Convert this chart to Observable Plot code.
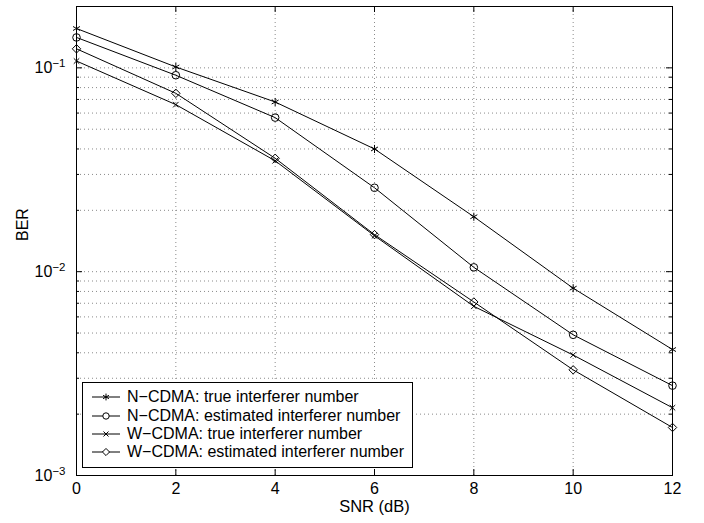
<!DOCTYPE html>
<html><head><meta charset="utf-8">
<script src="https://cdn.jsdelivr.net/npm/d3@7"></script>
<script src="https://cdn.jsdelivr.net/npm/@observablehq/plot@0.6"></script>
<style>
body{margin:0;background:#fff;font-family:"Liberation Sans",Arial,Helvetica,sans-serif;}
#wrap{position:relative;width:704px;height:523px;}
#legend{position:absolute;left:82px;top:382px;width:331px;height:86px;border:1px solid #000;background:#fff;box-sizing:border-box;}
.row{position:absolute;left:0;height:18px;width:100%;font-size:16px;color:#000;}
.row svg{position:absolute;left:0;top:0;}
.row span{position:absolute;left:44px;top:0;line-height:18px;white-space:nowrap;}
</style></head><body><div id="wrap"></div>
<script>
// ---- data ----
const snr = [0, 2, 4, 6, 8, 10, 12];
const nCdmaTrue = [0.156, 0.101, 0.068, 0.040, 0.0186, 0.0083, 0.00415];
const nCdmaEst  = [0.141, 0.092, 0.057, 0.0258, 0.0105, 0.0049, 0.00276];
const wCdmaTrue = [0.108, 0.066, 0.035, 0.0150, 0.00676, 0.0039, 0.00215];
const wCdmaEst  = [0.124, 0.075, 0.036, 0.0152, 0.0071, 0.0033, 0.00172];
const seriesNames = [
  "N\u2212CDMA: true interferer number",
  "N\u2212CDMA: estimated interferer number",
  "W\u2212CDMA: true interferer number",
  "W\u2212CDMA: estimated interferer number"
];
const seriesSymbols = ["asterisk", "circle", "times", "diamond2"];
const seriesValues = [nCdmaTrue, nCdmaEst, wCdmaTrue, wCdmaEst];

const xTicks = [0, 2, 4, 6, 8, 10, 12];
const xGrid = [2, 4, 6, 8, 10];
const yMajor = [0.001, 0.01, 0.1];
const yMinor = [0.002, 0.003, 0.004, 0.005, 0.006, 0.007, 0.008, 0.009,
                0.02, 0.03, 0.04, 0.05, 0.06, 0.07, 0.08, 0.09];
const yGrid = [0.002, 0.003, 0.004, 0.005, 0.006, 0.007, 0.008, 0.009, 0.01,
               0.02, 0.03, 0.04, 0.05, 0.06, 0.07, 0.08, 0.09, 0.1];

const data = seriesNames.flatMap((name, s) =>
  snr.map((x, i) => ({x, y: seriesValues[s][i], name, symbol: seriesSymbols[s]})));

// ---- layout ----
const W = 704, H = 523, mL = 76, mR = 32, mT = 6, mB = 48;
const pw = W - mL - mR, ph = H - mT - mB;
const gridStyle = {stroke: "#8a8a8a", strokeDasharray: "1,3", strokeWidth: 1};
const symR = {asterisk: 3.8, circle: 3.8, times: 2.6, diamond2: 3.8};

const chart = Plot.plot({
  width: W, height: H,
  marginLeft: mL, marginRight: mR, marginTop: mT, marginBottom: mB,
  style: {fontFamily: "'Liberation Sans', Arial, Helvetica, sans-serif", fontSize: "16px", background: "#fff"},
  x: {domain: [0, 12], label: null},
  y: {type: "log", domain: [0.001, 0.2], label: null},
  marks: [
    Plot.ruleX(xGrid, gridStyle),
    Plot.ruleY(yGrid, gridStyle),
    // inward tick marks
    Plot.ruleX(xTicks, {insetTop: ph - 6, stroke: "#000"}),
    Plot.ruleX(xTicks, {insetBottom: ph - 6, stroke: "#000"}),
    Plot.ruleY(yMajor, {insetRight: pw - 6, stroke: "#000"}),
    Plot.ruleY(yMajor, {insetLeft: pw - 6, stroke: "#000"}),
    Plot.ruleY(yMinor, {insetRight: pw - 3, stroke: "#000"}),
    Plot.ruleY(yMinor, {insetLeft: pw - 3, stroke: "#000"}),
    Plot.frame({stroke: "#000"}),
    Plot.line(data, {x: "x", y: "y", z: "name", stroke: "#000", strokeWidth: 1}),
    ...seriesSymbols.map(sym =>
      Plot.dot(data.filter(d => d.symbol === sym),
        {x: "x", y: "y", symbol: "symbol", stroke: "#000", fill: "none", r: symR[sym], strokeWidth: 1})),
    Plot.axisX({ticks: xTicks, tickSize: 0, tickPadding: 7, label: null, fontSize: 16}),
    Plot.axisY({ticks: yMajor, tickSize: 0, tickPadding: 11, label: null, fontSize: 16,
      tickFormat: d => String(Math.round(Math.log10(d)))}),
    Plot.text(["SNR (dB)"], {frameAnchor: "bottom", dy: 36, fontSize: 16.5}),
    Plot.text(["BER"], {frameAnchor: "left", dx: -54, rotate: -90, fontSize: 16})
  ]
});

// superscript exponents for y tick labels
d3.select(chart).selectAll('g[aria-label="y-axis tick label"] text').each(function() {
  const e = this.textContent.replace("-", "\u2212");
  const t = d3.select(this);
  t.text("10");
  t.append("tspan").attr("dy", "-0.5em").attr("font-size", "11.5px").text(e);
});

const wrap = document.getElementById("wrap");
wrap.appendChild(chart);

// legend
const legend = document.createElement("div");
legend.id = "legend";
wrap.appendChild(legend);
const rowTops = [5, 23.5, 41.5, 60];
seriesNames.forEach((name, i) => {
  const row = document.createElement("div");
  row.className = "row";
  row.style.top = rowTops[i] + "px";
  legend.appendChild(row);
  const svg = d3.select(row).append("svg").attr("width", 42).attr("height", 18);
  svg.append("line").attr("x1", 9).attr("x2", 37).attr("y1", 9).attr("y2", 9).attr("stroke", "#000");
  const symMap = {asterisk: d3.symbolAsterisk, circle: d3.symbolCircle, times: d3.symbolTimes, diamond2: d3.symbolDiamond2};
  const sym = seriesSymbols[i];
  const rr = sym === "times" ? 2.4 : 3.2;
  svg.append("path").attr("transform", "translate(23,9)")
    .attr("d", d3.symbol(symMap[sym], Math.PI * rr * rr)())
    .attr("fill", sym === "circle" || sym === "diamond2" ? "#fff" : "none")
    .attr("stroke", "#000");
  const span = document.createElement("span");
  span.textContent = name;
  row.appendChild(span);
});
</script>
</body></html>
